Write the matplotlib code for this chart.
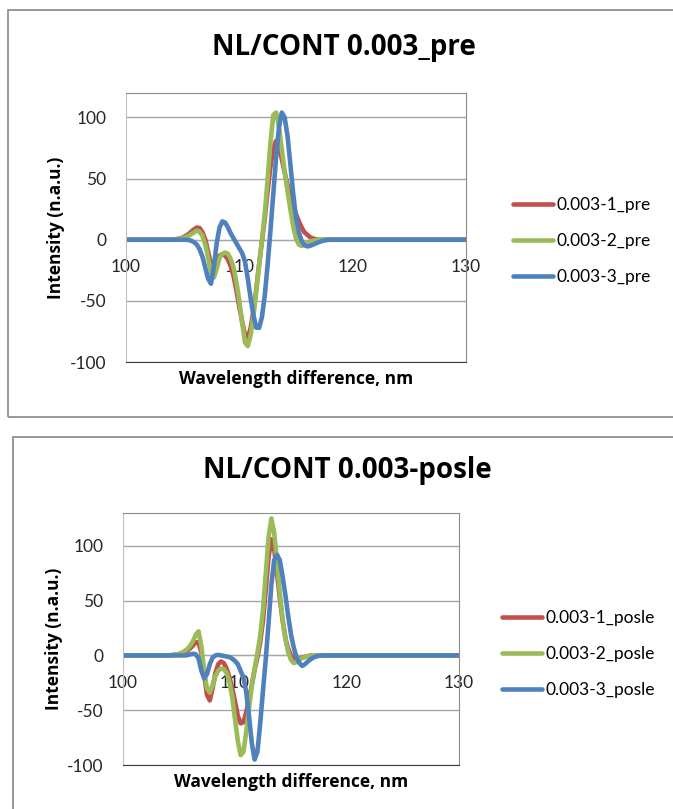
import numpy as np
import matplotlib
matplotlib.use("Agg")
from matplotlib import pyplot as plt
from matplotlib.patches import Rectangle

plt.rcParams['font.family'] = ['Lato', 'DejaVu Sans']
plt.rcParams['axes.unicode_minus'] = False

# wavelength grid (nm), fine steps in the active region
wl_mid = list(np.arange(104.0, 118.01, 0.25))
wavelength = [100.0] + wl_mid + [130.0]

# ---- top chart: 0.003 pre ----
pre_1 = [0,
         0, 0.3, 0.6, 1, 1.8, 3, 4.5, 6.5, 8.5, 10, 9.5, 6, 0,
         -10, -20, -20, -16, -13, -12, -13, -16, -22, -30, -42, -55, -67,
         -78, -80, -72, -58, -40, -20, -1, 18, 40, 60, 75, 81, 76, 66,
         55, 45, 36, 28, 21, 15, 10, 6, 4, 2, 1, 0.4, 0,
         0, 0, 0, 0,
         0]
pre_2 = [0,
         0, 0.2, 0.4, 0.8, 1.3, 2, 3, 4.5, 6, 7.5, 6.5, 3, -4,
         -15, -27, -31, -24, -15, -11.5, -10.5, -11.5, -16, -23, -35, -50, -68,
         -84, -87, -78, -62, -42, -20, 0, 22, 50, 80, 102, 104, 92, 74,
         56, 40, 25, 11, 1, -4, -5, -4, -2.5, -1.5, -0.8, -0.3, 0,
         0, 0, 0, 0,
         0]
pre_3 = [0,
         0, 0, 0, 0, 0, 0, -0.3, -0.8, -2, -4, -8, -14, -23,
         -32, -36, -22, -3, 10, 15, 14, 10, 5, 1, -3, -7, -11,
         -18, -32, -48, -62, -72, -72, -63, -45, -20, 8, 38, 68, 92, 104,
         100, 85, 62, 38, 18, 6, -1, -4.5, -5.5, -5, -4, -3, -2,
         -1.2, -0.6, -0.2, 0,
         0]

# ---- bottom chart: 0.003 posle ----
posle_1 = [0,
           0, 0.2, 0.4, 0.7, 1.2, 2, 3, 4.5, 6.5, 9, 12, 12, 2,
           -18, -36, -41, -30, -16, -8, -5.5, -7, -12, -20, -30, -42, -55,
           -62, -61, -52, -40, -27, -13, -2, 12, 32, 60, 90, 106, 97, 75,
           52, 32, 16, 6, 0, -3, -3.5, -3, -2, -1.2, -0.6, -0.2, 0,
           0, 0, 0, 0,
           0]
posle_2 = [0,
           0, 0.2, 0.5, 0.9, 1.5, 2.5, 4, 6, 9, 13, 19, 22, 8,
           -15, -30, -34, -27, -19, -14, -12, -12.5, -16, -24, -38, -58, -78,
           -91, -88, -70, -48, -28, -12, 2, 18, 42, 75, 108, 125, 112, 85,
           57, 33, 15, 3, -4, -7, -6, -4, -2.5, -1.5, -0.8, -0.3, 0,
           0, 0, 0, 0,
           0]
posle_3 = [0,
           0, 0, 0, 0, 0, 0, 0, 0.3, 1, 1.5, 1, -3, -14,
           -21, -17, -8, -2, 0, 0.5, 0, -0.5, -1, -1.5, -3, -5, -8,
           -14, -20, -33, -55, -80, -95, -88, -62, -32, -3, 30, 65, 87, 92,
           87, 72, 55, 36, 19, 7, -2, -7, -9.5, -8, -5.5, -3.5, -2,
           -1, -0.4, -0.1, 0,
           0]

pre_labels = ['0.003-1_pre', '0.003-2_pre', '0.003-3_pre']
posle_labels = ['0.003-1_posle', '0.003-2_posle', '0.003-3_posle']
colors = ['#C0504D', '#9BBB59', '#4F81BD']
yticks = [-100, -50, 0, 50, 100]
xticks = [100, 110, 120, 130]

W, H = 673, 809
fig = plt.figure(figsize=(W / 100, H / 100), dpi=100)
bold_font = ['Open Sans', 'DejaVu Sans']


def fx(px):
    return px / W


def fy(py):
    return 1 - py / H


def chart(rect, series, labels, ylim, title, title_xy, leg_xy):
    ax = fig.add_axes(rect)
    for vals, lab, c in zip(series, labels, colors):
        ax.plot(wavelength, vals, color=c, lw=3.3, label=lab,
                solid_capstyle='round', solid_joinstyle='round')
    ax.set_xlim(100, 130)
    ax.set_ylim(*ylim)
    ax.set_yticks(yticks)
    ax.yaxis.grid(True, color='#A6A6A6', lw=1)
    ax.set_axisbelow(True)
    ax.tick_params(axis='x', labelbottom=False, length=0)
    ax.tick_params(axis='y', length=0, pad=14, labelsize=12.5,
                   labelcolor='#262626')
    ax.spines['left'].set_color('#BFBFBF')
    ax.spines['top'].set_color('#8C8C8C')
    ax.spines['right'].set_color('#8C8C8C')
    ax.spines['bottom'].set_color('#404040')

    # horizontal axis crosses at zero, like the Excel original
    sec = ax.secondary_xaxis(0, transform=ax.transData)
    sec.set_xticks(xticks)
    sec.tick_params(length=0, pad=14, labelsize=12.5, labelcolor='#262626')
    sec.spines['bottom'].set_color('#868686')

    ax.set_xlabel('Wavelength difference, nm', fontsize=12.5, family=bold_font,
                  fontweight='bold', va='top')
    ax.xaxis.set_label_coords(0.5, -0.03)
    ax.set_ylabel('Intensity (n.a.u.)', fontsize=12.5, family=bold_font,
                  fontweight='bold')
    ax.yaxis.set_label_coords(-0.18, 0.5)

    fig.text(fx(title_xy[0]), fy(title_xy[1]), title, fontsize=20,
             family=bold_font, fontweight='bold', ha='center', va='center')
    ax.legend(loc='center left', bbox_to_anchor=(fx(leg_xy[0]), fy(leg_xy[1])),
              bbox_transform=fig.transFigure, frameon=False, fontsize=12.5,
              handlelength=2.3, handletextpad=0.2, labelspacing=1.15,
              borderpad=0, borderaxespad=0)
    return ax


# outer chart boxes
fig.patches.append(Rectangle((fx(8), fy(417)), 1.2, 407 / H, fill=False,
                             edgecolor='#888888', lw=1.2,
                             transform=fig.transFigure))
fig.patches.append(Rectangle((fx(13), -0.2), 1.2, fy(437) + 0.2, fill=False,
                             edgecolor='#888888', lw=1.2,
                             transform=fig.transFigure))

chart([fx(126), fy(362), 340 / W, 269 / H], [pre_1, pre_2, pre_3],
      pre_labels, (-100, 120), 'NL/CONT 0.003_pre', (344, 47), (513, 241))
chart([fx(123), fy(765), 336 / W, 252 / H], [posle_1, posle_2, posle_3],
      posle_labels, (-100, 130), 'NL/CONT 0.003-posle', (347, 470), (502, 654))

fig.savefig('out.png', dpi=100)
